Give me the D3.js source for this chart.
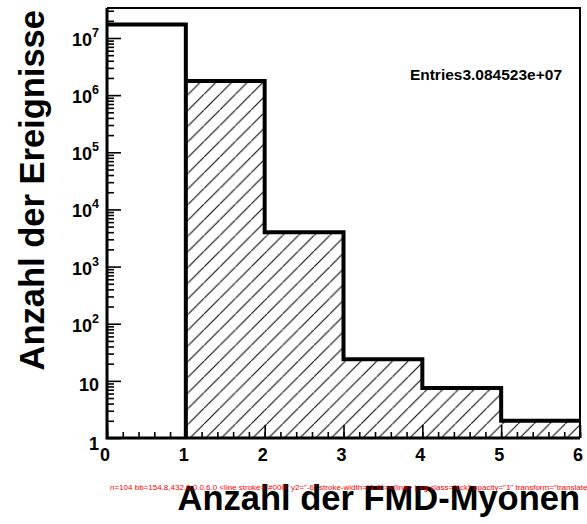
<!DOCTYPE html>
<html>
<head>
<meta charset="utf-8">
<script src="https://cdn.jsdelivr.net/npm/d3@7"></script>
<style>
  body { margin: 0; background: #fff; }
  text { font-family: "Liberation Sans", Arial, sans-serif; font-weight: bold; }
</style>
</head>
<body>
<div id="chart"></div>
<script>
// histogram bins (lower edges) and contents
const binEdges = [0, 1, 2, 3, 4, 5, 6];
const counts = [1.72e7, 1.76e6, 4000, 24, 7.5, 2];
const hatched = [false, true, true, true, true, true];
const xTicks = [0, 1, 2, 3, 4, 5, 6];
const yDecades = [1, 10, 1e2, 1e3, 1e4, 1e5, 1e6, 1e7];
const entriesText = "Entries3.084523e+07";

const W = 587, H = 524;
const pL = 107, pR = 580, pT = 8, pB = 438;

const svg = d3.select("#chart")
    .append("svg")
    .attr("width", W)
    .attr("height", H);

const x = d3.scaleLinear().domain([0, 6]).range([pL, pR]);
const y = d3.scaleLog().domain([1, 3.35e7]).range([pB, pT]);

// hatch pattern
const pat = svg.append("defs").append("pattern")
    .attr("id", "hatch")
    .attr("patternUnits", "userSpaceOnUse")
    .attr("width", 15.7)
    .attr("height", 15.7);
pat.append("path")
    .attr("d", "M-1,16.7L16.7,-1")
    .attr("stroke", "#000")
    .attr("stroke-width", 1);

// bin fills
counts.forEach((c, i) => {
    if (!hatched[i]) return;
    svg.append("rect")
        .attr("x", x(binEdges[i]))
        .attr("y", y(c))
        .attr("width", x(binEdges[i + 1]) - x(binEdges[i]))
        .attr("height", pB - y(c))
        .attr("fill", "url(#hatch)");
});

// histogram outline (step line)
const outline = d3.path();
outline.moveTo(x(binEdges[0]), y(counts[0]));
counts.forEach((c, i) => {
    if (i > 0) outline.lineTo(x(binEdges[i]), y(c));
    outline.lineTo(x(binEdges[i + 1]), y(c));
});
outline.moveTo(x(1), y(counts[1]));
outline.lineTo(x(1), pB);
svg.append("path")
    .attr("d", outline.toString())
    .attr("fill", "none")
    .attr("stroke", "#000")
    .attr("stroke-width", 4);

// frame
svg.append("path")
    .attr("d", `M${pL},${pT}H${pR}V${pB}`)
    .attr("fill", "none")
    .attr("stroke", "#000")
    .attr("stroke-width", 2);

// x labels
xTicks.forEach(d => {
    svg.append("text")
        .attr("x", x(d) - 2)
        .attr("y", 461)
        .attr("text-anchor", "middle")
        .attr("font-size", "18px")
        .text(d);
});

// y labels
yDecades.forEach(d => {
    const e = Math.round(Math.log10(d));
    const t = svg.append("text")
        .attr("x", 99)
        .attr("y", y(d) + (e === 0 ? 12 : e === 1 ? 10 : 8))
        .attr("text-anchor", "end")
        .attr("font-size", "18px");
    if (e === 0) t.text("1");
    else if (e === 1) t.text("10");
    else {
        t.append("tspan").text("10");
        t.append("tspan")
            .attr("font-size", "12.5px")
            .attr("dy", -9)
            .text(e);
    }
});

// stats text
svg.append("text")
    .attr("x", 562)
    .attr("y", 80)
    .attr("text-anchor", "end")
    .attr("font-size", "15.5px")
    .text(entriesText);

// axis titles
svg.append("text")
    .attr("x", pR)
    .attr("y", 510)
    .attr("text-anchor", "end")
    .attr("font-size", "34.5px")
    .text("Anzahl der FMD-Myonen");
svg.append("text")
    .attr("transform", "translate(44,10) rotate(-90)")
    .attr("text-anchor", "end")
    .attr("font-size", "34.5px")
    .text("Anzahl der Ereignisse");

// ticks: x axis drawn with the default d3 axis generator (inward ticks)
const xAxisMajor = d3.axisTop(x).tickValues(xTicks).tickSize(13).tickFormat("");
const xAxisMinor = d3.axisTop(x).tickValues(d3.range(0, 6.001, 0.2)).tickSize(6).tickFormat("");
const gx1 = svg.append("g").attr("transform", `translate(0,${pB})`).call(xAxisMinor);
const gx2 = svg.append("g").attr("transform", `translate(0,${pB})`).call(xAxisMajor);

const yMinorVals = [];
yDecades.forEach(dec => {
    for (let k = 2; k <= 9; k++) if (dec * k < 3.35e7) yMinorVals.push(dec * k);
});
const yAxisMajor = d3.axisRight(y).tickValues(yDecades).tickSize(14).tickFormat("");
const yAxisMinor = d3.axisRight(y).tickValues(yMinorVals).tickSize(7).tickFormat("");
const gy1 = svg.append("g").attr("transform", `translate(${pL},0)`).call(yAxisMinor);
const gy2 = svg.append("g").attr("transform", `translate(${pL},0)`).call(yAxisMajor);
[gx1, gx2, gy1, gy2].forEach(g => {
    g.selectAll(".tick line").attr("stroke", "#000").attr("stroke-width", 1.6);
    g.select(".domain").remove();
});

// left and bottom axis lines
svg.append("path")
    .attr("d", `M${pL},${pT}V${pB}H${pR}`)
    .attr("fill", "none")
    .attr("stroke", "#000")
    .attr("stroke-width", 3);

// debug info
const ln = document.querySelectorAll(".tick line");
let info = "n=" + ln.length;
if (ln.length) {
    const b = ln[3].getBoundingClientRect();
    info += " bb=" + [b.x, b.y, b.width, b.height].map(v => v.toFixed(1)).join(",");
    info += " " + ln[3].outerHTML + " | " + ln[3].parentNode.outerHTML.slice(0, 120);
}
svg.append("text").attr("x", 110).attr("y", 490).attr("font-size", "8px")
    .attr("fill", "red").style("font-weight", "normal").text(info);
</script>
</body>
</html>
